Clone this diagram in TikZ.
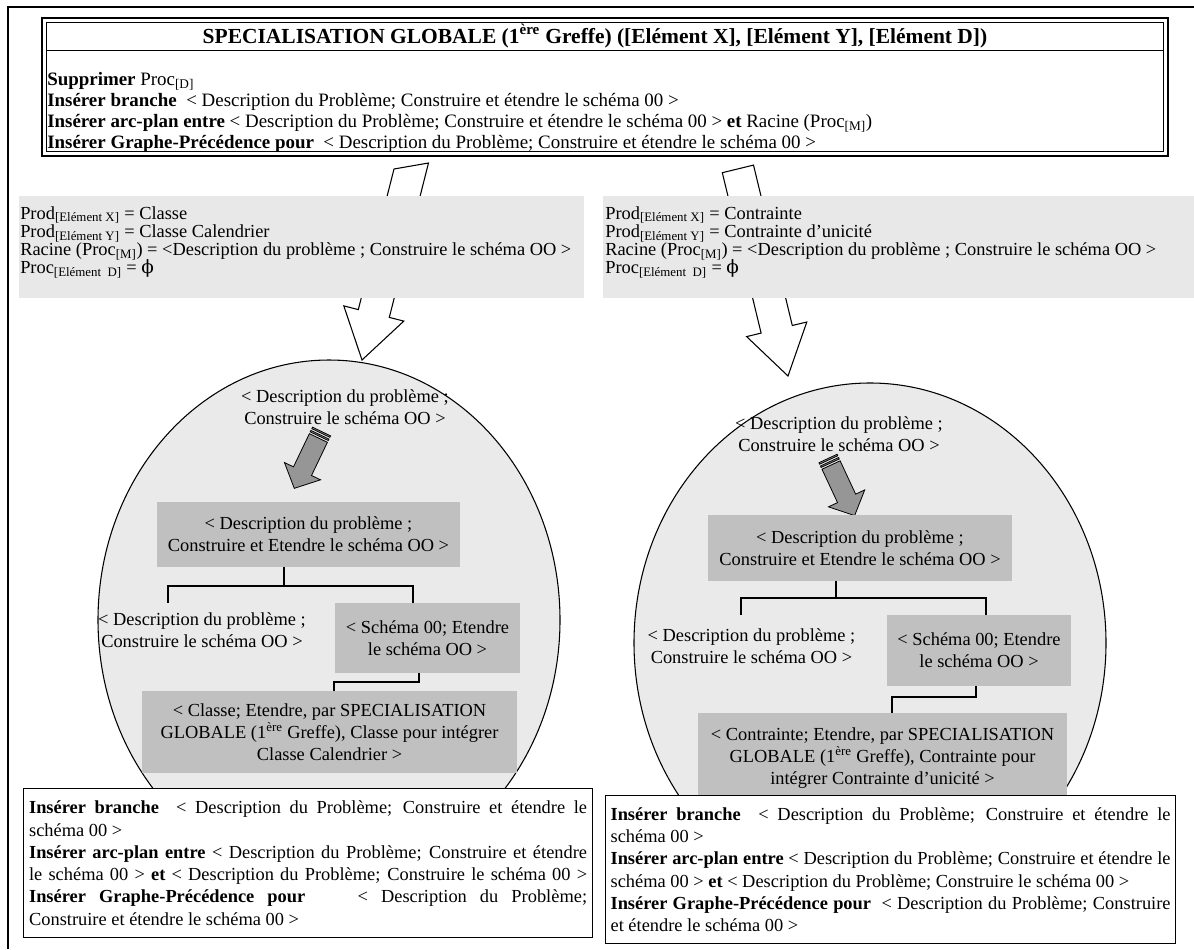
\documentclass[tikz,border=0pt]{standalone}
\usepackage{fontspec}
\setmainfont{Liberation Serif}
\newfontfamily\dvs{DejaVu Serif}
\usetikzlibrary{calc}
\definecolor{prodgray}{RGB}{232,232,232}
\definecolor{circgray}{RGB}{234,234,234}
\definecolor{boxgray}{RGB}{192,192,192}
\definecolor{arrgray}{RGB}{150,150,150}
\newlength\bwl \setlength\bwl{418.5pt}
\newlength\bwr \setlength\bwr{420pt}
\newcommand\jl[2]{\makebox[#1][s]{#2}}
\begin{document}
\begin{tikzpicture}[x=0.75pt,y=-0.75pt,
 every node/.style={inner sep=0pt,font=\fontsize{13.8}{16.7}\selectfont},
 frameline/.style={line width=1.1pt},
 hdrbox/.style={draw,line width=1.3pt,fill=white},
 hdrfont/.style={font={\fontsize{14.2}{15.75}\selectfont\lineskiplimit=-20pt}},
 prodfont/.style={font={\fontsize{13.8}{13.7}\selectfont\lineskiplimit=-20pt}},
 prodbox/.style={fill=prodgray,anchor=north west,minimum height=76.5pt},
 ring/.style={draw,fill=circgray,line width=0.8pt},
 graybox/.style={fill=boxgray,align=center},
 plaintext/.style={align=center},
 conn/.style={line width=0.9pt},
 whitearrow/.style={draw,fill=white,line width=0.8pt,line join=miter},
 grayarrow/.style={draw,fill=arrgray,line width=0.6pt,line join=miter},
 cmdbox/.style={draw,fill=white,line width=0.9pt,align=left,anchor=north west},
 titlefont/.style={font=\fontsize{16.1}{19}\selectfont\bfseries},
 striparrow/.pic={
   \draw[grayarrow] (0,-10) rectangle (1.6,10);
   \draw[grayarrow] (3.6,-10) rectangle (5.2,10);
   \draw[grayarrow] (7.2,-10) -- (44,-10) -- (44,-20) -- (63,0) -- (44,20) -- (44,10) -- (7.2,10) -- cycle;
 }]
\useasboundingbox (0,0) rectangle (1194,949);
% outer frame
\draw[frameline] (8,949) -- (8,7) -- (1194,7);
% header
\node[hdrbox,minimum width=844.5pt,minimum height=103.5pt] (hdr) at (605,87) {};
\draw[line width=0.6pt] ([shift={(5,5)}]hdr.north west) rectangle ([shift={(-5,-5)}]hdr.south east);
\coordinate (dvl) at (47,50);
\coordinate (dvr) at (1163,50);
\draw[line width=0.6pt] (dvl) -- (dvr);
\node[titlefont] (title) at (595,36) {SPECIALISATION GLOBALE (1\textsuperscript{ère} Greffe) ([Elément X], [Elément Y], [Elément D])};
\node[hdrfont,align=left,anchor=north west] (htxt) at (47,72) {%
\textbf{Supprimer} Proc\textsubscript{[D]}\\
\textbf{Insérer branche}\ \ < Description du Problème; Construire et étendre le schéma 00 >\\
\textbf{Insérer arc-plan entre} < Description du Problème; Construire et étendre le schéma 00 > \textbf{et} Racine (Proc\textsubscript{[M]})\\
\textbf{Insérer Graphe-Précédence pour}\ \ < Description du Problème; Construire et étendre le schéma 00 >};
% white block arrows
\draw[whitearrow] (394,169) -- (428.5,163) -- (389.3,317.4) -- (403.8,321.1) -- (362,360) -- (343.8,305.9) -- (358.3,309.6) -- cycle;
\draw[whitearrow] (722.3,172.7) -- (753.5,165.1) -- (792.3,325.5) -- (806.8,322.0) -- (788,376) -- (746.6,336.6) -- (761.1,333.1) -- cycle;
% Prod boxes
\node[prodbox,minimum width=423.75pt] (lprod) at (19,196) {};
\node[prodfont,align=left,anchor=north west] (lprodt) at (20,206) {%
Prod\textsubscript{[Elément X]} = Classe\\
Prod\textsubscript{[Elément Y]} = Classe Calendrier\\
Racine (Proc\textsubscript{[M]}) = <Description du problème ; Construire le schéma OO >\\
Proc\textsubscript{[Elément\ \ D]} = {\dvs ϕ}};
\node[prodbox,minimum width=443.25pt] (rprod) at (603,196) {};
\node[prodfont,align=left,anchor=north west] (rprodt) at (605,206) {%
Prod\textsubscript{[Elément X]} = Contrainte\\
Prod\textsubscript{[Elément Y]} = Contrainte d’unicité\\
Racine (Proc\textsubscript{[M]}) = <Description du problème ; Construire le schéma OO >\\
Proc\textsubscript{[Elément\ \ D]} = {\dvs ϕ}};
% circles
\draw[ring] (329,620) ellipse [x radius=173.25pt, y radius=195pt];
\draw[ring] (870,643) ellipse [x radius=177pt, y radius=195pt];
% left circle content
\node[plaintext] (lt0) at (345,407) {< Description du problème ;\\Construire le schéma OO >};
\pic[rotate=-115.6] at (321.5,431.5) {striparrow};
\node[graybox,minimum width=227.25pt,minimum height=48.75pt] (lb1) at (308.5,534.5) {< Description du problème ;\\Construire et Etendre le schéma OO >};
\node[plaintext] (lt1) at (202,630) {< Description du problème ;\\Construire le schéma OO >};
\node[graybox,minimum width=138.75pt,minimum height=52.5pt] (lb2) at (427.5,638) {< Schéma 00; Etendre\\le schéma OO >};
\node[graybox,minimum width=281.25pt,minimum height=61.5pt] (lb3) at (329.5,732) {< Classe; Etendre, par SPECIALISATION\\GLOBALE (1\textsuperscript{ère} Greffe), Classe pour intégrer\\Classe Calendrier >};
\coordinate (lj) at (284,586);
\coordinate (lL) at (168,586);
\coordinate (lR) at (413,586);
\draw[conn] (lb1.south -| lj) -- (lj);
\draw[conn] (lL |- lb2.north) -- (lL) -- (lR) -- (lR |- lb2.north);
\coordinate (lk) at (419,682);
\coordinate (lk2) at (334,682);
\draw[conn] (lb2.south -| lk) -- (lk) -- (lk2) -- (lk2 |- lb3.north);
% right circle content
\node[plaintext] (rt0) at (839,434) {< Description du problème ;\\Construire le schéma OO >};
\pic[rotate=-65] at (828,458.5) {striparrow};
\node[graybox,minimum width=228pt,minimum height=49.5pt] (rb1) at (860,548) {< Description du problème ;\\Construire et Etendre le schéma OO >};
\node[plaintext] (rt1) at (751.5,646) {< Description du problème ;\\Construire le schéma OO >};
\node[graybox,minimum width=138pt,minimum height=53.25pt] (rb2) at (979,650.5) {< Schéma 00; Etendre\\le schéma OO >};
\node[graybox,minimum width=276.75pt,minimum height=67.5pt] (rb3) at (882.5,758) {< Contrainte; Etendre, par SPECIALISATION\\GLOBALE (1\textsuperscript{ère} Greffe), Contrainte pour\\intégrer Contrainte d’unicité >};
\coordinate (rj) at (836,598);
\coordinate (rL) at (741,598);
\coordinate (rR) at (986,598);
\draw[conn] (rb1.south -| rj) -- (rj);
\draw[conn] (rL |- rb2.north) -- (rL) -- (rR) -- (rR |- rb2.north);
\coordinate (rk) at (976,697);
\coordinate (rk2) at (892,697);
\draw[conn] (rb2.south -| rk) -- (rk) -- (rk2) -- (rk2 |- rb3.north);
% bottom command boxes
\node[cmdbox,minimum width=426.75pt,minimum height=111.75pt,inner xsep=4.1pt] (lcmd) at (23,788) {%
\jl{\bwl}{\textbf{Insérer branche}\ \ < Description du Problème; Construire et étendre le}\\
schéma 00 >\\
\jl{\bwl}{\textbf{Insérer arc-plan entre} < Description du Problème; Construire et étendre}\\
\jl{\bwl}{le schéma 00 > \textbf{et} < Description du Problème; Construire le schéma 00 >}\\
\jl{\bwl}{\textbf{Insérer Graphe-Précédence pour}\ \ \ \ < Description du Problème;}\\
Construire et étendre le schéma 00 >};
\node[cmdbox,minimum width=427.5pt,minimum height=111pt,inner xsep=3.75pt] (rcmd) at (605,795) {%
\jl{\bwr}{\textbf{Insérer branche}\ \ < Description du Problème; Construire et étendre le}\\
schéma 00 >\\
\jl{\bwr}{\textbf{Insérer arc-plan entre} < Description du Problème; Construire et étendre le}\\
schéma 00 > \textbf{et} < Description du Problème; Construire le schéma 00 >\\
\jl{\bwr}{\textbf{Insérer Graphe-Précédence pour}\ \ < Description du Problème; Construire}\\
et étendre le schéma 00 >};
\end{tikzpicture}
\end{document}
